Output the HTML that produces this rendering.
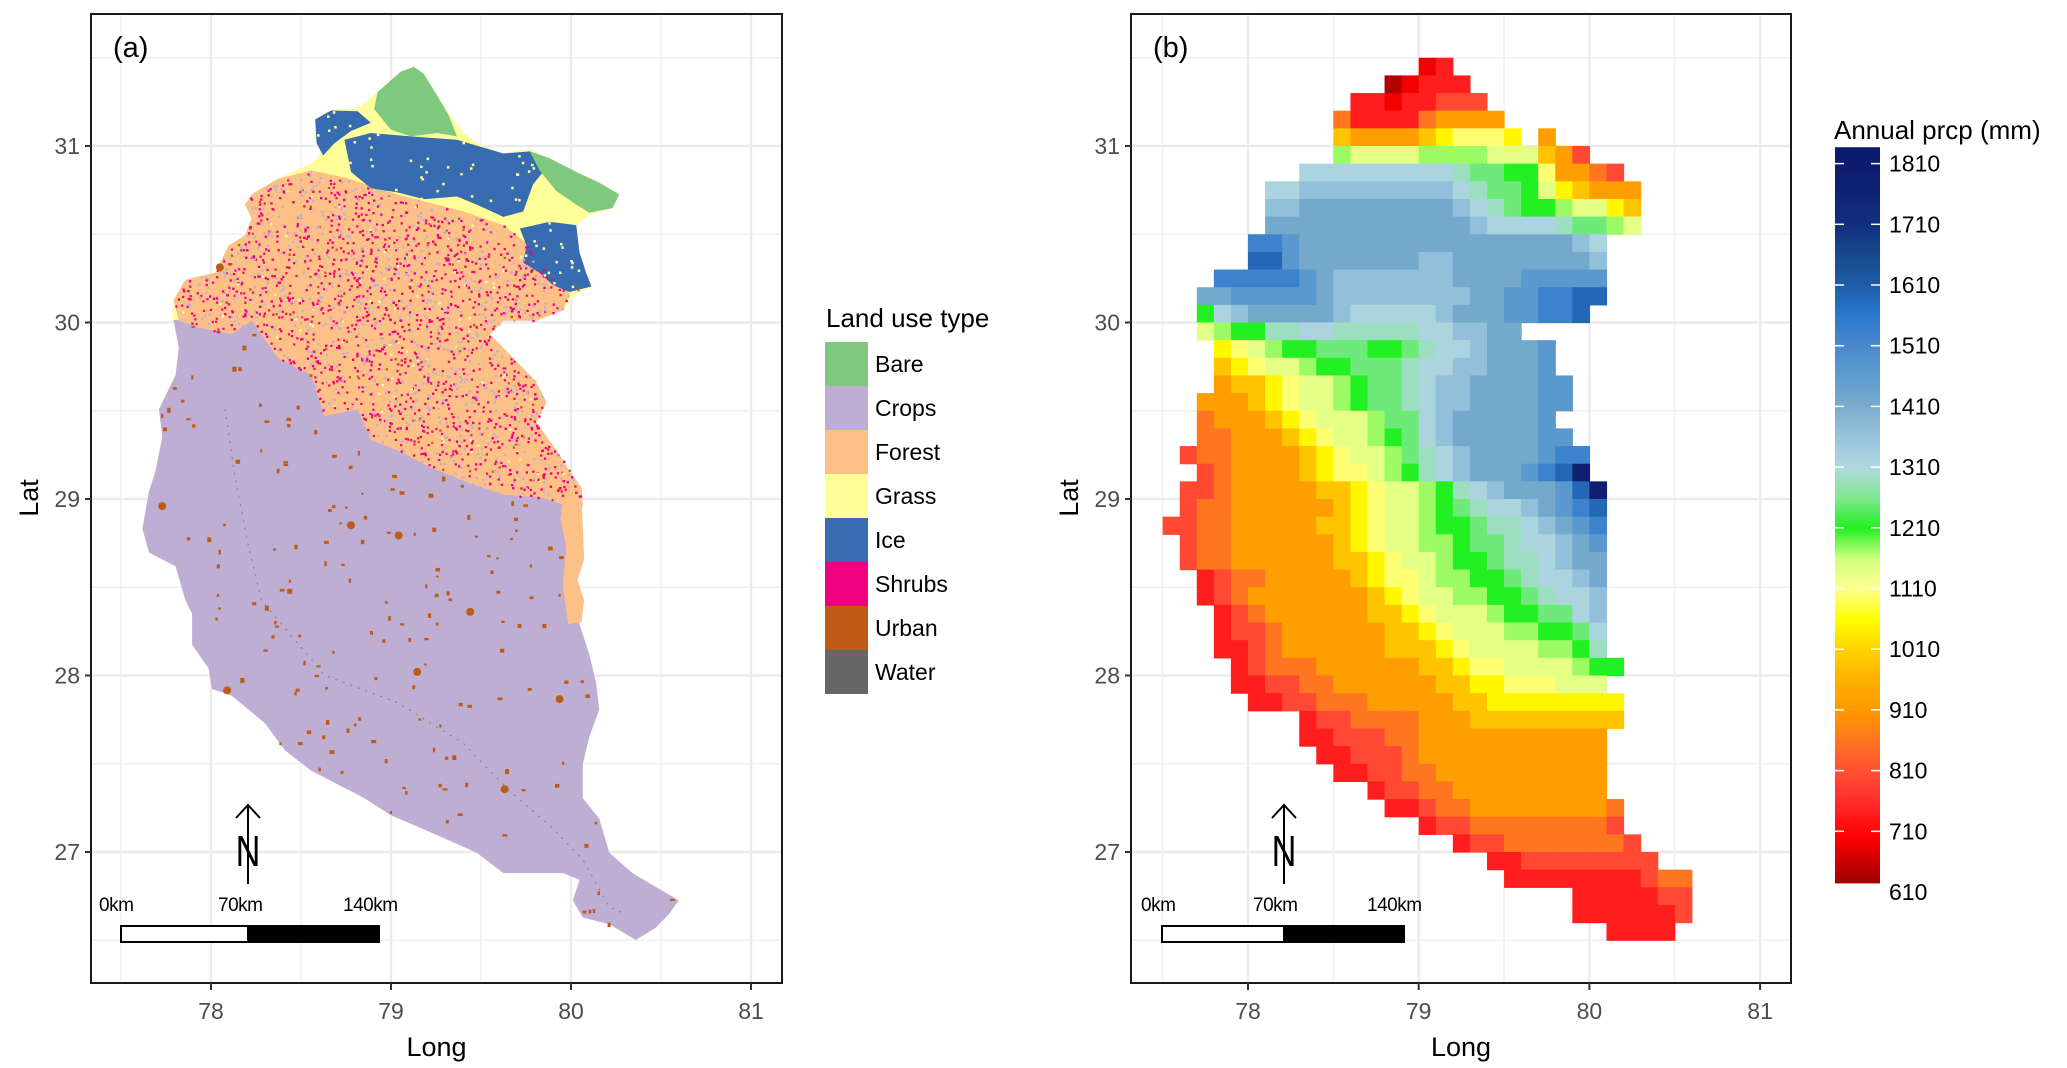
<!DOCTYPE html>
<html><head><meta charset="utf-8"><style>
html,body{margin:0;padding:0;background:#fff}
svg{display:block;font-family:"Liberation Sans",Arial,sans-serif}
</style></head><body>
<svg id="fig" width="2067" height="1068" viewBox="0 0 2067 1068" xmlns="http://www.w3.org/2000/svg">
<defs>
<clipPath id="clipA"><rect x="91" y="14" width="691" height="969"/></clipPath>
<clipPath id="clipB"><rect x="1131" y="14" width="660" height="969"/></clipPath>
<clipPath id="clipOutline"><polygon id="outlineClipPoly" points="0,0"/></clipPath>
</defs>
<rect x="0" y="0" width="2067" height="1068" fill="#fff"/>
<g id="panelA"></g>
<g id="panelB"></g>
</svg>
<script>
// ---------- data for panel (b) ----------
const lonStart = 77.5;
const latTop = 31.5;
const cellDeg = 0.1;
const levelCodes = "abcdefghijklmnopqrstuv";
const levelValues = [640,690,740,800,860,920,990,1050,1100,1140,1175,1210,1250,1290,1320,1370,1420,1470,1530,1590,1680,1780];
const precipRows = [
"...............bc..............",
".............abccc.............",
"...........ccbccddd............",
"..........ecccceffff...........",
"..........gffffghiiih.f........",
"..........kjjjjkkkkjjjgfd......",
"........ooooooooonmmlliffed....",
"......ooppppppppponmmljhgfff...",
"......ppqqqqqqqqqponmllkjjhg...",
"......qqqqqqqqqqqqpoooonmmkj...",
".....ssrqqqqqqqqqqqqqqqqpo.....",
".....ttrqqqqqqqppqqqqqqqqp.....",
"...sssssrqpppppppqqqqrrrrr.....",
"..qqrrrrrqppppppppqqrrsstt.....",
"..lopqqqqqpooooopqqqrrsst......",
"..jkllnnoonnnnnooppqq..........",
"...hijkllmmmllmnoopqqqr........",
"...ghijjkllmmmnooppqqqr........",
"...fgghijjklmmnoppqqqqrr.......",
"..fffghijjklmmnoppqqqqrr.......",
"..efffghijjjkmmopqqqqqr........",
"..eefffghijjklmopqqqqqrr.......",
".deeffffghijjkmnopqqqqrss......",
"..deffffghiijklnopqqqrstv......",
".ddefffffgghijjklnopqqqrtv.....",
".deeffffffghijjklmnoopqrst.....",
"ddeefffffgghijjkllmnnopqrs.....",
".deeffffffghijjkklmmnoopqr.....",
".deeffffffgghijjkllmnnopqq.....",
"..cdeefffffghiijkkllmnoopq.....",
"..cdefffffffghijjkkllmnoop.....",
"...cdeffffffgghijjjkllmmop.....",
"...cddeffffffgghijjjkkllmo.....",
"...ccdeffffffggghijjjjkkln.....",
"....cdeeeffffffgghiijjjjkll....",
"....ccddeeffffffgghhiiijjj.....",
".....ccddeeefffffgghhhhhhhh....",
"........cddeeeefffggggggggg....",
"........ccdddeefffffffffff.....",
".........ccdddefffffffffff.....",
"..........ccddeeffffffffff.....",
"............cddeefffffffff.....",
".............ccdeeffffffffe....",
"...............cddeeeeeeeed....",
".................cddeeeeeeed...",
"...................ccdddddddd..",
"....................ccccccccdee",
"........................cccccdd",
"........................ccccccd",
"..........................cccc."
];
const cbTicks = [610,710,810,910,1010,1110,1210,1310,1410,1510,1610,1710,1810];
const landClasses = ["Bare","Crops","Forest","Grass","Ice","Shrubs","Urban","Water"];
const landColors = ["#7fc97f","#beaed4","#fdc086","#ffff99","#386cb0","#f0027f","#bf5b17","#666666"];
const latTicks = [27,28,29,30,31];
const lonTicks = [78,79,80,81];

const NS = "http://www.w3.org/2000/svg";
function mk(tag, parent){ const e=document.createElementNS(NS,tag); parent.appendChild(e); return e; }
function yL(lat){ return 146 + (31-lat)*176.5; }
function xA(lon){ return 211 + (lon-78)*180; }
function xB(lon){ return 1248 + (lon-78)*170.7; }

const stopV=[610,700,760,810,860,910,960,1010,1060,1110,1160,1210,1260,1310,1360,1410,1460,1510,1560,1610,1660,1710,1810,1840];
const stopC=["#8b0000","#ff0000","#ff2c2c","#ff5034","#ff7520","#ff9900","#ffb000","#ffd200","#ffff00","#ffff90","#d0ff80","#22f022","#80e890","#b0d8e0","#98c4dc","#7aaccc","#5e9ccf","#4a88cc","#2a78cc","#1e5da8","#174a8c","#122e80","#0d1a6e","#0d1a6e"];
function hx(c){return [parseInt(c.substr(1,2),16),parseInt(c.substr(3,2),16),parseInt(c.substr(5,2),16)];}
function colorOf(v){
  if(v<=stopV[0]) return stopC[0];
  for(let i=1;i<stopV.length;i++){ if(v<=stopV[i]){ const t=(v-stopV[i-1])/(stopV[i]-stopV[i-1]); const a=hx(stopC[i-1]),b=hx(stopC[i]); return "rgb("+a.map((x,k)=>Math.round(x+(b[k]-x)*t)).join(",")+")"; } }
  return stopC[stopC.length-1];
}

function drawFrame(g, xf, left, right, clipId, panelLabel, lonMinors){
  const grid = mk("g", g);
  grid.setAttribute("clip-path","url(#"+clipId+")");
  
  
  [26.5,27.5,28.5,29.5,30.5,31.5].forEach(l=>{ const ln=mk("line",grid); ln.setAttribute("x1",left); ln.setAttribute("x2",right); ln.setAttribute("y1",yL(l)); ln.setAttribute("y2",yL(l)); ln.setAttribute("stroke","#ededed"); ln.setAttribute("stroke-width","1.3");
    
     });
  latTicks.forEach(l=>{ const ln=mk("line",grid); ln.setAttribute("x1",left); ln.setAttribute("x2",right); ln.setAttribute("y1",yL(l)); ln.setAttribute("y2",yL(l)); ln.setAttribute("stroke","#ebebeb"); ln.setAttribute("stroke-width","2.4");
    
     });
  lonMinors.forEach(l=>{ const ln=mk("line",grid); ln.setAttribute("x1",xf(l)); ln.setAttribute("x2",xf(l)); ln.setAttribute("y1",14); ln.setAttribute("y2",983); ln.setAttribute("stroke","#ededed"); ln.setAttribute("stroke-width","1.3");
    
     });
  lonTicks.forEach(l=>{ const ln=mk("line",grid); ln.setAttribute("x1",xf(l)); ln.setAttribute("x2",xf(l)); ln.setAttribute("y1",14); ln.setAttribute("y2",983); ln.setAttribute("stroke","#ebebeb"); ln.setAttribute("stroke-width","2.4");
    
     });
  const lab = mk("text", g); lab.textContent = panelLabel;
  lab.setAttribute("x", left+22); lab.setAttribute("y", 57); lab.setAttribute("font-size","29"); lab.setAttribute("fill","#000");
  
  
}

function drawAxes(g, xf, left, right){
  const box = mk("rect", g);
  box.setAttribute("x",left); box.setAttribute("y",14); box.setAttribute("width",right-left); box.setAttribute("height",969);
  box.setAttribute("fill","none"); box.setAttribute("stroke","#1a1a1a"); box.setAttribute("stroke-width","2");
  
  
  latTicks.forEach(l=>{
    const t=mk("line",g); t.setAttribute("x1",left-6); t.setAttribute("x2",left); t.setAttribute("y1",yL(l)); t.setAttribute("y2",yL(l)); t.setAttribute("stroke","#333"); t.setAttribute("stroke-width","2");
    
    
    const tx=mk("text",g); tx.textContent=String(l); tx.setAttribute("x",left-11); tx.setAttribute("y",yL(l)+8); tx.setAttribute("text-anchor","end"); tx.setAttribute("font-size","23"); tx.setAttribute("fill","#4d4d4d");
    
    
  });
  lonTicks.forEach(l=>{
    const t=mk("line",g); t.setAttribute("x1",xf(l)); t.setAttribute("x2",xf(l)); t.setAttribute("y1",983); t.setAttribute("y2",990); t.setAttribute("stroke","#333"); t.setAttribute("stroke-width","2");
    
    
    const tx=mk("text",g); tx.textContent=String(l); tx.setAttribute("x",xf(l)); tx.setAttribute("y",1019); tx.setAttribute("text-anchor","middle"); tx.setAttribute("font-size","23"); tx.setAttribute("fill","#4d4d4d");
    
    
  });
  const xt=mk("text",g); xt.textContent="Long"; xt.setAttribute("x",(left+right)/2); xt.setAttribute("y",1056); xt.setAttribute("text-anchor","middle"); xt.setAttribute("font-size","27"); xt.setAttribute("fill","#000");
  
  
  const yt=mk("text",g); yt.textContent="Lat"; yt.setAttribute("transform","translate("+(left-53)+",498) rotate(-90)"); yt.setAttribute("text-anchor","middle"); yt.setAttribute("font-size","27"); yt.setAttribute("fill","#000");
  
  
}

function drawScaleBar(g, x0, xm, x1, arrowX, labX){
  const sb = mk("g", g);
  
  
  const r1=mk("rect",sb); r1.setAttribute("x",x0); r1.setAttribute("y",926); r1.setAttribute("width",xm-x0); r1.setAttribute("height",16); r1.setAttribute("fill","#fff"); r1.setAttribute("stroke","#000"); r1.setAttribute("stroke-width","2");
  
  
  const r2=mk("rect",sb); r2.setAttribute("x",xm); r2.setAttribute("y",926); r2.setAttribute("width",x1-xm); r2.setAttribute("height",16); r2.setAttribute("fill","#000"); r2.setAttribute("stroke","#000"); r2.setAttribute("stroke-width","2");
  
  
  ["0km","70km","140km"].forEach((s,i)=>{ const t=mk("text",sb); t.textContent=s; t.setAttribute("x",labX[i]); t.setAttribute("y",911); t.setAttribute("font-size","19"); t.setAttribute("fill","#000"); t.setAttribute("letter-spacing","-0.5");
    
     });
  const na = mk("g", g);
  
  
  const ln=mk("path",na); ln.setAttribute("d","M"+arrowX+" 884 L"+arrowX+" 805 M"+(arrowX-12)+" 818 L"+arrowX+" 805 L"+(arrowX+12)+" 818"); ln.setAttribute("stroke","#000"); ln.setAttribute("stroke-width","2"); ln.setAttribute("fill","none");
  const n=mk("text",na); n.textContent="N"; n.setAttribute("x",arrowX); n.setAttribute("y",866); n.setAttribute("text-anchor","middle"); n.setAttribute("font-size","44"); n.setAttribute("fill","#000"); n.setAttribute("transform","translate("+arrowX+",0) scale(0.78,1) translate("+(-arrowX)+",0)");
  
  
}

// ================= PANEL A =================
const gA = document.getElementById("panelA");
drawFrame(gA, xA, 91, 782, "clipA", "(a)", [77.5,78.5,79.5,80.5]);
function Z(pts){ return pts.map(p=>[p[0]/1.51, p[1]/1.466]); }
const outline = Z([[620,100],[640,110],[660,140],[680,170],[700,195],[720,210],[760,225],[800,218],[830,235],[870,255],[900,265],[935,285],[925,305],[890,315],[870,330],[875,370],[885,400],[895,420],[870,430],[850,455],[810,470],[760,470],[740,490],[770,520],[810,560],[825,590],[810,620],[840,660],[860,690],[878,715],[880,740],[870,770],[880,820],[870,850],[880,880],[875,915],[890,960],[900,1000],[905,1040],[890,1080],[880,1120],[880,1170],[905,1200],[920,1250],[955,1280],[990,1300],[1025,1320],[1010,1340],[990,1360],[960,1378],[920,1355],[880,1345],[865,1320],[875,1290],[850,1280],[760,1280],[720,1250],[650,1220],[590,1195],[550,1170],[510,1150],[470,1130],[430,1100],[400,1060],[350,1020],[320,1010],[315,980],[290,945],[290,900],[280,880],[265,830],[225,810],[215,775],[225,720],[235,690],[245,640],[240,600],[265,550],[270,510],[260,460],[265,440],[280,410],[300,405],[325,400],[345,360],[370,345],[380,320],[370,300],[380,285],[420,262],[470,240],[485,225],[475,200],[490,165],[510,160],[540,160],[570,135],[600,110]]);
const forestPoly = Z([[262,440],[280,410],[325,400],[345,360],[370,345],[380,320],[370,300],[380,285],[420,262],[470,250],[520,260],[600,285],[700,310],[760,330],[800,360],[830,400],[860,430],[850,455],[810,470],[760,470],[740,490],[770,520],[810,560],[825,590],[810,620],[840,660],[860,690],[878,715],[880,740],[850,740],[820,730],[760,725],[700,705],[650,685],[600,660],[560,645],[540,600],[490,610],[470,550],[420,525],[380,470],[350,490],[300,480],[270,470]]);
const forestStrip = Z([[850,738],[878,738],[880,770],[882,820],[872,850],[882,880],[878,912],[858,915],[850,860],[855,800],[846,760]]);
const icePolys = [
 Z([[520,205],[560,195],[620,200],[690,205],[760,225],[800,222],[830,240],[805,270],[790,310],[760,318],[720,300],[690,288],[640,292],[600,282],[560,276],[530,252]]),
 Z([[476,175],[500,162],[540,163],[560,180],[530,192],[505,210],[488,228],[478,210]]),
 Z([[785,335],[830,325],[870,330],[875,370],[885,400],[893,420],[860,428],[835,418],[815,400],[790,385],[795,360]])
];
const barePolys = [
 Z([[570,135],[605,105],[625,98],[640,108],[660,140],[678,170],[690,200],[660,195],[620,200],[590,190],[565,160]]),
 Z([[800,222],[830,232],[870,252],[905,268],[935,285],[925,305],[890,312],[870,300],[840,280],[815,250]])
];
function poly(g, pts, fill, name){
  const p=mk("polygon",g); p.setAttribute("points",pts.map(q=>q[0].toFixed(1)+","+q[1].toFixed(1)).join(" ")); p.setAttribute("fill",fill);
  
  
  return p;
}
function inside(pt, vs){ let x=pt[0],y=pt[1],c=false; for(let i=0,j=vs.length-1;i<vs.length;j=i++){ const xi=vs[i][0],yi=vs[i][1],xj=vs[j][0],yj=vs[j][1]; if(((yi>y)!=(yj>y))&&(x<(xj-xi)*(y-yi)/(yj-yi)+xi)) c=!c; } return c; }
let seed=12345; function rnd(){ seed=(seed*1103515245+12345)%2147483648; return seed/2147483648; }
document.getElementById("outlineClipPoly").setAttribute("points", outline.map(q=>q[0].toFixed(1)+","+q[1].toFixed(1)).join(" "));
const mapA = mk("g", gA);


poly(mapA, outline, landColors[1], "crops-area");
const upper = mk("rect", mapA);
upper.setAttribute("x",0); upper.setAttribute("y",0); upper.setAttribute("width",800); upper.setAttribute("height",320);
upper.setAttribute("fill",landColors[3]); upper.setAttribute("clip-path","url(#clipOutline)");


poly(mapA, forestPoly, landColors[2], "forest-area");
poly(mapA, forestStrip, landColors[2], "forest-strip");
icePolys.forEach(p=>poly(mapA,p,landColors[4],"ice-area"));
barePolys.forEach(p=>poly(mapA,p,landColors[0],"bare-area"));
// speckles within forest
for(let i=0;i<9000;i++){
  const x=170+rnd()*430, y=160+rnd()*340;
  if(!inside([x,y],forestPoly)) continue;
  const r=rnd(); let col=null;
  if(r<0.40) col=landColors[5]; else if(r<0.62) col=landColors[1]; else if(r<0.635) col=landColors[6]; else if(r<0.66) col=landColors[3];
  if(!col) continue;
  const s=mk("rect",mapA); s.setAttribute("x",x.toFixed(1)); s.setAttribute("y",y.toFixed(1)); s.setAttribute("width",2.2); s.setAttribute("height",2.2); s.setAttribute("fill",col);
  
  
}
// grass speckles in ice area
for(let i=0;i<900;i++){
  const x=310+rnd()*300, y=110+rnd()*190;
  if(!icePolys.some(p=>inside([x,y],p))) continue;
  if(rnd()<0.75) continue;
  const s=mk("rect",mapA); s.setAttribute("x",x.toFixed(1)); s.setAttribute("y",y.toFixed(1)); s.setAttribute("width",2.5); s.setAttribute("height",2.5); s.setAttribute("fill",landColors[3]);
  
  
}
// urban dots in crops area
for(let i=0;i<1400;i++){
  const x=140+rnd()*560, y=270+rnd()*660;
  if(!inside([x,y],outline)||inside([x,y],forestPoly)||inside([x,y],forestStrip)) continue;
  if(rnd()<0.72) continue;
  const w=2+rnd()*3;
  const s=mk("rect",mapA); s.setAttribute("x",x.toFixed(1)); s.setAttribute("y",y.toFixed(1)); s.setAttribute("width",w.toFixed(1)); s.setAttribute("height",(2+rnd()*3).toFixed(1)); s.setAttribute("fill",landColors[6]);
  
  
}
Z([[245,742],[530,770],[710,897],[845,1025],[343,1012],[602,785],[630,985],[332,392],[762,1157]]).forEach(p=>{
  const c=mk("circle",mapA); c.setAttribute("cx",p[0]); c.setAttribute("cy",p[1]); c.setAttribute("r",4); c.setAttribute("fill",landColors[6]);
  
  
});
const river = mk("path", mapA);
river.setAttribute("d","M"+Z([[340,600]]).map(p=>p.join(" "))+" "+Z([[355,700],[375,800],[395,880],[490,990],[600,1030],[700,1090],[770,1160],[830,1210],[880,1260],[920,1330],[945,1340]]).map(p=>"L"+p.join(" ")).join(" "));
river.setAttribute("stroke","#8a8a8a"); river.setAttribute("stroke-width","1.3"); river.setAttribute("fill","none"); river.setAttribute("stroke-dasharray","2 6");



drawAxes(gA, xA, 91, 782);
drawScaleBar(gA, 121, 248, 379, 248, [99,218,343]);

const leg = mk("g", gA);


const lt=mk("text",leg); lt.textContent="Land use type"; lt.setAttribute("x",826); lt.setAttribute("y",327); lt.setAttribute("font-size","26"); lt.setAttribute("fill","#000");


landClasses.forEach((nm,i)=>{
  const k=mk("rect",leg); k.setAttribute("x",825); k.setAttribute("y",342+44*i); k.setAttribute("width",43); k.setAttribute("height",44); k.setAttribute("fill",landColors[i]);
  
  
  const t=mk("text",leg); t.textContent=nm; t.setAttribute("x",875); t.setAttribute("y",342+44*i+30); t.setAttribute("font-size","23"); t.setAttribute("fill","#000");
  
  
});

// ================= PANEL B =================
const gB = document.getElementById("panelB");
drawFrame(gB, xB, 1131, 1791, "clipB", "(b)", [77.5,78.5,79.5,80.5]);
const heat = mk("g", gB);


precipRows.forEach((row,r)=>{
  for(let c=0;c<row.length;c++){
    const k=levelCodes.indexOf(row[c]); if(k<0) continue;
    const v=levelValues[k];
    const lon0=lonStart+c*cellDeg, lat0=latTop-r*cellDeg;
    const x0=xB(lon0), x1=xB(lon0+cellDeg), y0=yL(lat0), y1=yL(lat0-cellDeg);
    const cell=mk("rect",heat);
    cell.setAttribute("x",x0.toFixed(2)); cell.setAttribute("y",y0.toFixed(2)); cell.setAttribute("width",(x1-x0+0.6).toFixed(2)); cell.setAttribute("height",(y1-y0+0.6).toFixed(2)); cell.setAttribute("fill",colorOf(v));
    
    
  }
});
drawAxes(gB, xB, 1131, 1791);
drawScaleBar(gB, 1162, 1284, 1404, 1284, [1141,1253,1367]);

function yCB(v){ return 892-(v-610)*0.607; }
const cb = mk("g", gB);


const ct=mk("text",cb); ct.textContent="Annual prcp (mm)"; ct.setAttribute("x",1834); ct.setAttribute("y",139); ct.setAttribute("font-size","26"); ct.setAttribute("fill","#000");


for(let v=625; v<1836; v+=4){
  const s=mk("rect",cb); s.setAttribute("x",1835); s.setAttribute("width",45); s.setAttribute("y",yCB(v+4).toFixed(2)); s.setAttribute("height",(yCB(v)-yCB(v+4)+0.5).toFixed(2)); s.setAttribute("fill",colorOf(v+2));
  
  
}
cbTicks.forEach(v=>{
  if(v>625){
    const a=mk("line",cb); a.setAttribute("x1",1835); a.setAttribute("x2",1844); a.setAttribute("y1",yCB(v)); a.setAttribute("y2",yCB(v)); a.setAttribute("stroke","#fff"); a.setAttribute("stroke-width","1.5");
    
    
    const b=mk("line",cb); b.setAttribute("x1",1871); b.setAttribute("x2",1880); b.setAttribute("y1",yCB(v)); b.setAttribute("y2",yCB(v)); b.setAttribute("stroke","#fff"); b.setAttribute("stroke-width","1.5");
    
    
  }
  const t=mk("text",cb); t.textContent=String(v); t.setAttribute("x",1889); t.setAttribute("y",yCB(v)+8); t.setAttribute("font-size","23"); t.setAttribute("fill","#000");
  
  
});
</script>
</body></html>
